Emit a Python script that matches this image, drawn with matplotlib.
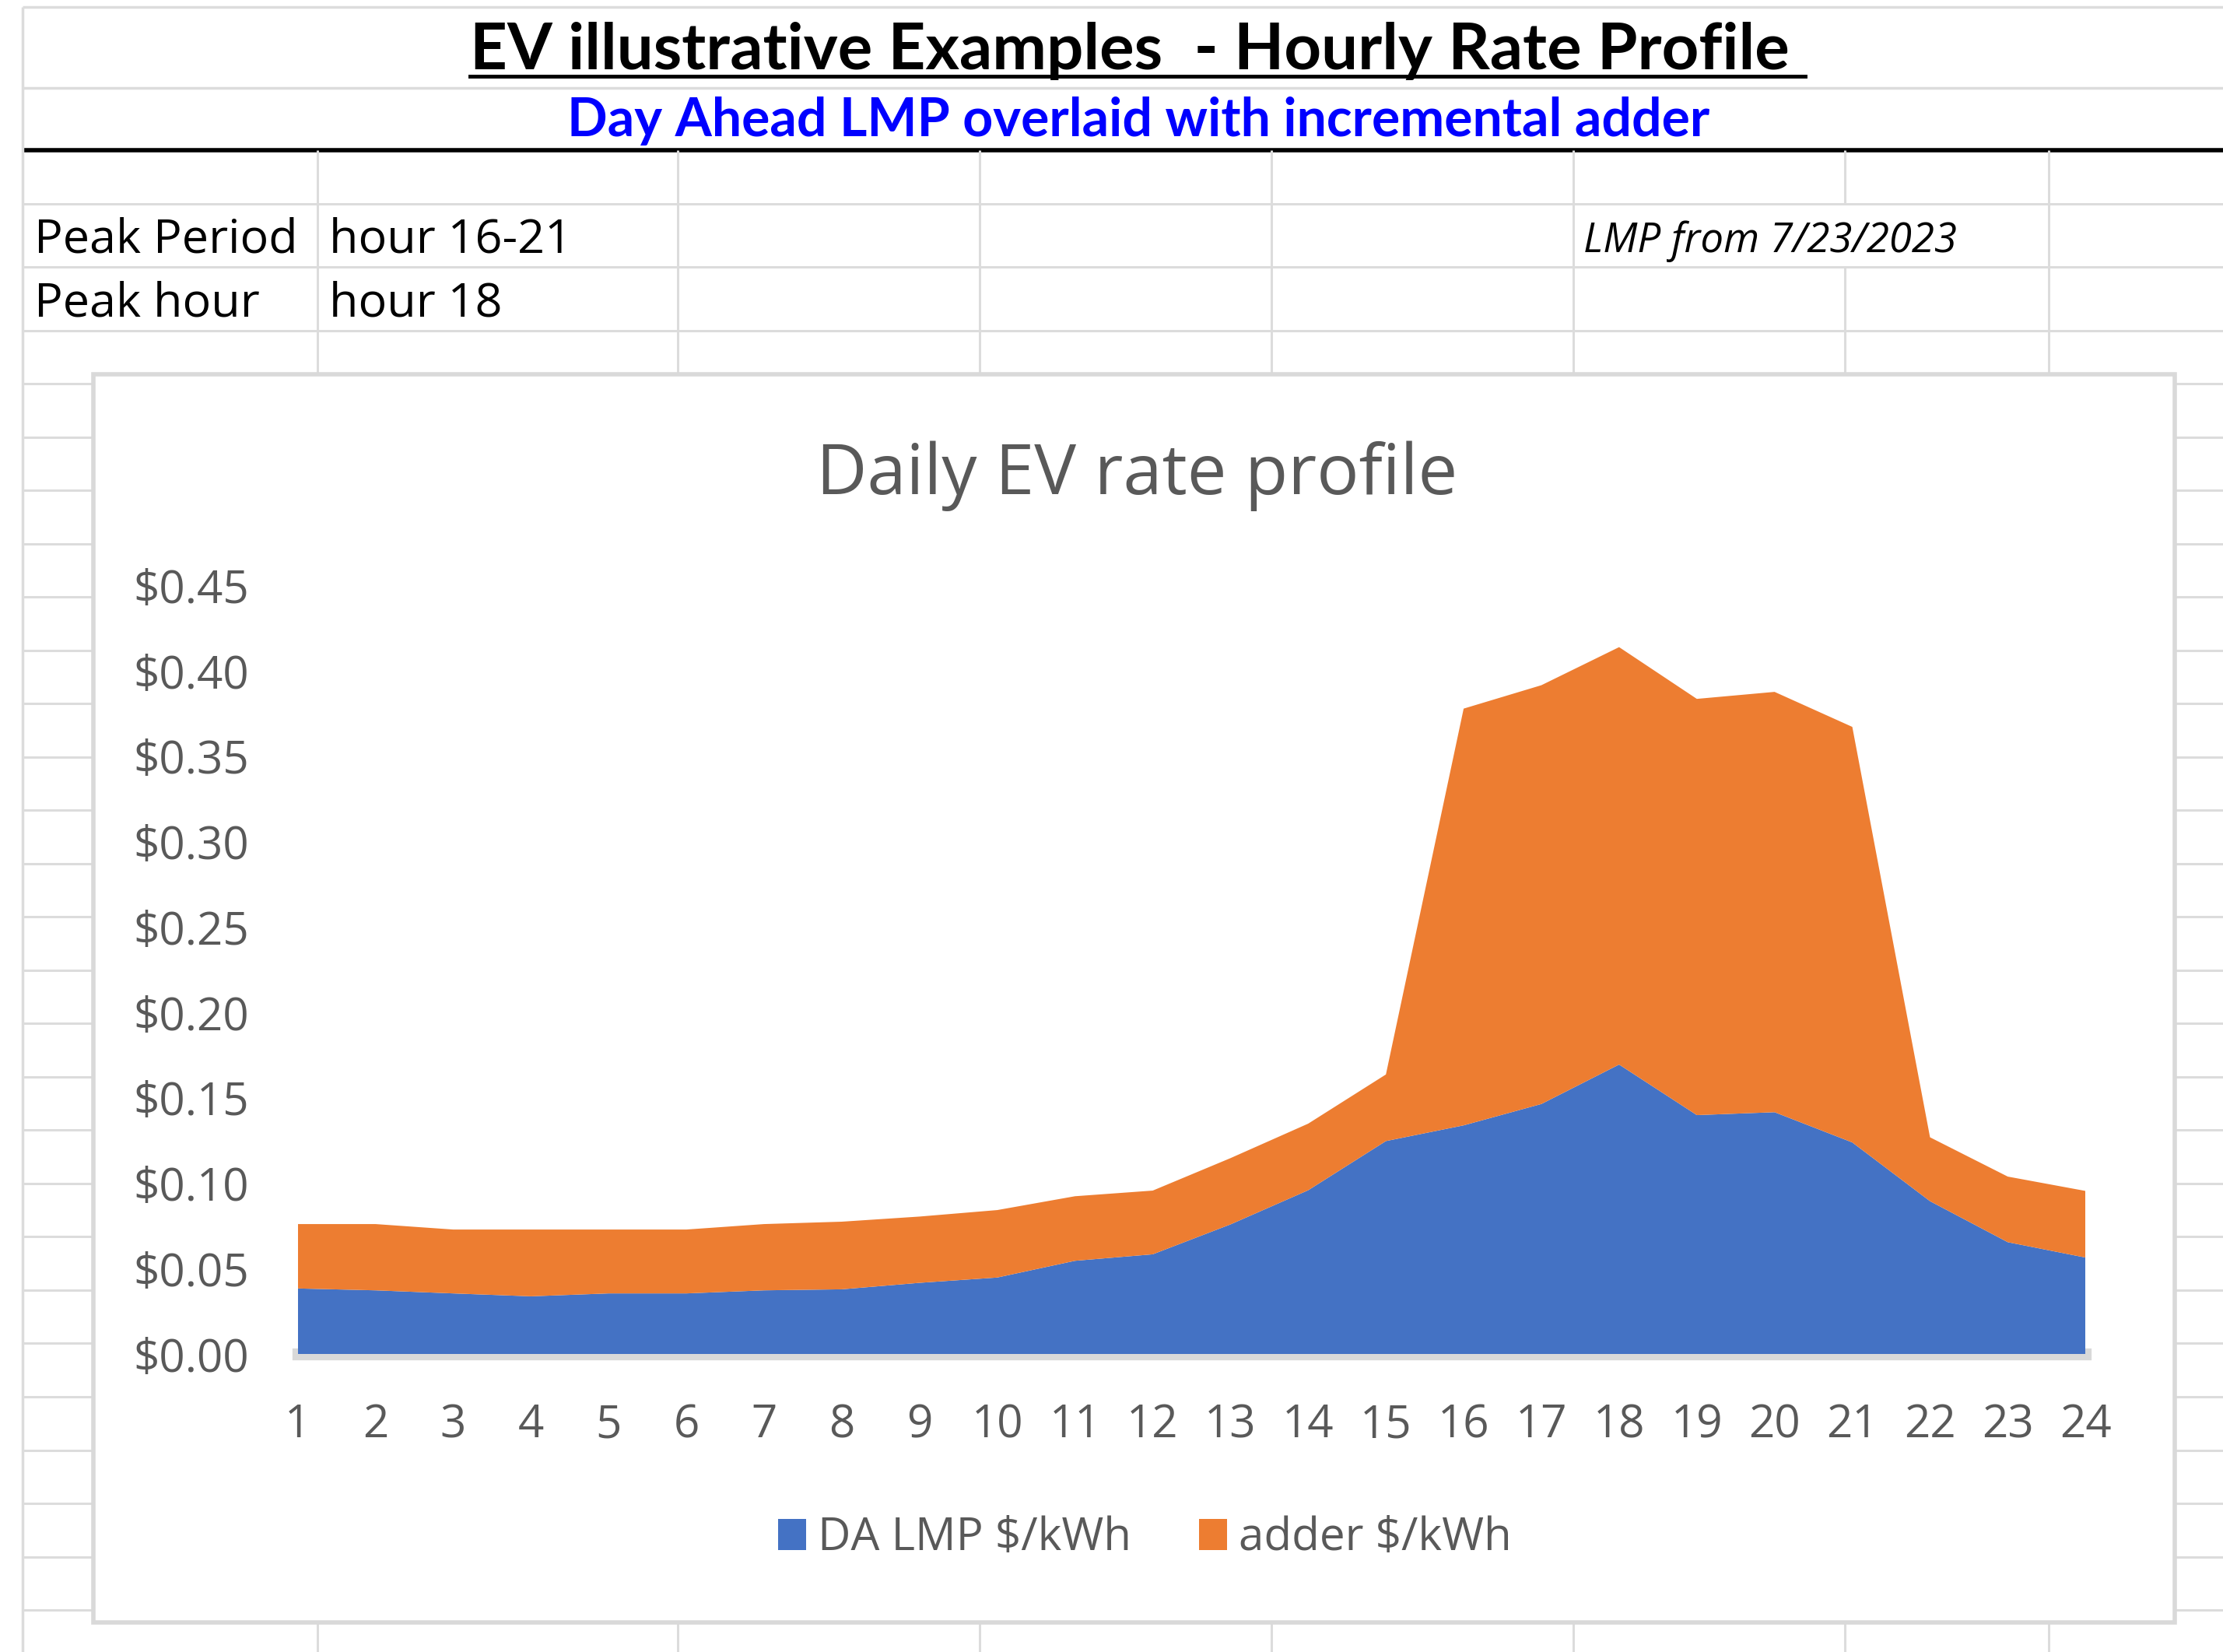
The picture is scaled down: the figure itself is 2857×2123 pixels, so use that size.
# plot.py
# Excel sheet screenshot: EV hourly rate profile (stacked area of LMP + adder)
import numpy as np
from matplotlib import pyplot as plt
from matplotlib.patches import Rectangle, Patch
from matplotlib.ticker import FuncFormatter

# hour of the day
hours = list(range(1, 25))

# day ahead LMP, $/kWh
da_lmp = [0.0385, 0.0374, 0.0356, 0.0339, 0.0356, 0.0356, 0.0374, 0.0380,
          0.0418, 0.0449, 0.0547, 0.0585, 0.0760, 0.0960, 0.1248, 0.1340,
          0.1465, 0.1696, 0.1400, 0.1417, 0.1240, 0.0896, 0.0656, 0.0566]

# incremental adder, $/kWh (stacked on top of the LMP)
adder = [0.0377, 0.0388, 0.0374, 0.0391, 0.0374, 0.0374, 0.0388, 0.0396,
         0.0388, 0.0395, 0.0378, 0.0373, 0.0388, 0.0390, 0.0390, 0.2440,
         0.2452, 0.2444, 0.2437, 0.2461, 0.2433, 0.0374, 0.0384, 0.0390]

y_ticks = [0.00, 0.05, 0.10, 0.15, 0.20, 0.25, 0.30, 0.35, 0.40, 0.45]
series_names = ['DA LMP $/kWh', 'adder $/kWh']

sheet_title = 'EV illustrative Examples  - Hourly Rate Profile '
sheet_subtitle = 'Day Ahead LMP overlaid with incremental adder'
cell_rows = [('Peak Period', 'hour 16-21'), ('Peak hour', 'hour 18')]
lmp_note = 'LMP from 7/23/2023'
chart_title = 'Daily EV rate profile'

BLUE = '#4472C4'
ORANGE = '#ED7D31'
TEXT_GRAY = '#595959'
GRID = '#dcdcdc'

# screen units (the sheet is laid out on a 1568 x 1165 grid)
W, H = 1568, 1165
COL_X = [16, 224, 478, 691, 897, 1110, 1301, 1445]

plt.rcParams['font.family'] = 'Open Sans'


def draw_sheet(bg):
    """Spreadsheet cell borders and header text."""
    bg.hlines([5, 62], 16, W, color=GRID, lw=2.5)
    bg.hlines(106, 16, W, color='black', lw=4)
    rows = [144, 188] + list(np.arange(233, H, 37.6))
    bg.hlines(rows, 16, W, color=GRID, lw=2.2)
    bg.vlines(16, 5, H, color=GRID, lw=2.5)
    for x in COL_X[1:]:
        if x == 1301:
            # the LMP note overflows this border in its row
            bg.vlines(x, 106, 144, color=GRID, lw=2.2)
            bg.vlines(x, 188, H, color=GRID, lw=2.2)
        else:
            bg.vlines(x, 106, H, color=GRID, lw=2.2)

    t = bg.text(802.5, 49, sheet_title, ha='center', va='baseline',
                fontsize=60, fontweight='bold', family='Lato', color='black')
    bg.text(803, 96, sheet_subtitle, ha='center', va='baseline',
            fontsize=49, fontweight='bold', family='Lato', color='#0000FF')

    # underline the title
    bg.figure.canvas.draw()
    bb = t.get_window_extent().transformed(bg.transData.inverted())
    bg.plot([bb.x0, bb.x1], [54, 54], color='black', lw=3.5)

    for i, (label, value) in enumerate(cell_rows):
        y = 178 + 45 * i
        bg.text(24, y, label, va='baseline', fontsize=44, color='black')
        bg.text(232, y, value, va='baseline', fontsize=44, color='black')
    bg.text(1117, 178, lmp_note, va='baseline', fontsize=38,
            style='italic', color='black')


def main():
    fig = plt.figure(figsize=(28.57, 21.23), dpi=100)

    bg = fig.add_axes([0, 0, 1, 1])
    bg.set_xlim(0, W)
    bg.set_ylim(H, 0)
    bg.axis('off')
    draw_sheet(bg)

    # chart object sitting on top of the sheet
    bg.add_patch(Rectangle((66, 264), 1468, 880, facecolor='white',
                           edgecolor='#d9d9d9', lw=4, zorder=5))
    bg.text(802, 348.5, chart_title, ha='center', va='baseline',
            fontsize=65, color=TEXT_GRAY, zorder=6)

    left, right, top, bottom = 210, 1471, 413, 955
    ax = fig.add_axes([left / W, 1 - bottom / H, (right - left) / W, (bottom - top) / H])
    ax.set_facecolor('none')
    ax.stackplot(hours, da_lmp, adder, colors=[BLUE, ORANGE], linewidth=0)
    ax.axhline(0, color='#d9d9d9', lw=11, zorder=0, clip_on=False)
    ax.set_xlim(1, 24)
    ax.set_ylim(0, 0.45)
    ax.set_xticks(hours)
    ax.set_xticklabels([str(h) for h in hours])
    ax.set_yticks(y_ticks)
    ax.yaxis.set_major_formatter(FuncFormatter(lambda v, p: '$%.2f' % v))
    ax.tick_params(length=0, pad=45, labelsize=42, labelcolor=TEXT_GRAY)
    for s in ax.spines.values():
        s.set_visible(False)

    handles = [Patch(facecolor=BLUE), Patch(facecolor=ORANGE)]
    fig.legend(handles, series_names, loc='center',
               bbox_to_anchor=(807.5 / W, 1 - 1085 / H), ncol=2, frameon=False,
               fontsize=42, labelcolor=TEXT_GRAY, handlelength=0.62,
               handleheight=0.66, handletextpad=0.25, columnspacing=1.5)

    fig.savefig('out.png', dpi=100)


if __name__ == "__main__":
    main()
